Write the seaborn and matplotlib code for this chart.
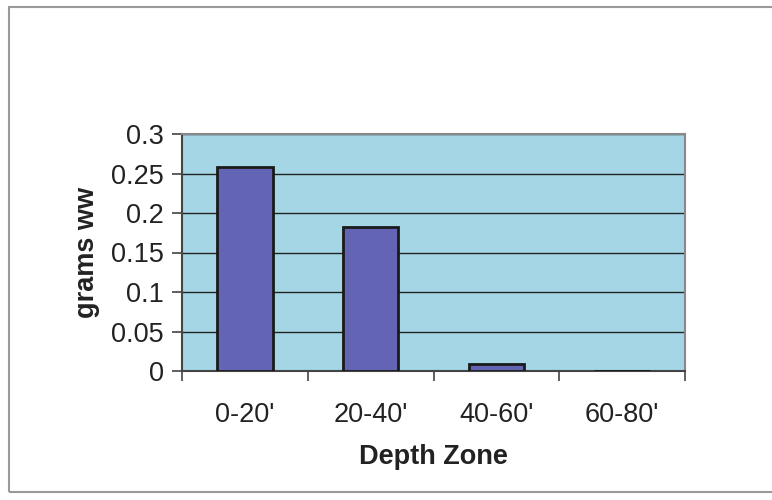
import matplotlib
matplotlib.use("Agg")
import matplotlib.pyplot as plt
import seaborn as sns
import pandas as pd
from matplotlib.patches import Rectangle

categories = ["0-20'", "20-40'", "40-60'", "60-80'"]
values = [0.258, 0.182, 0.009, 0.0]
y_ticks = [0, 0.05, 0.1, 0.15, 0.2, 0.25, 0.3]
y_tick_labels = ["0", "0.05", "0.1", "0.15", "0.2", "0.25", "0.3"]

sns.set_style("white")
plt.rcParams['font.family'] = ['Liberation Sans', 'DejaVu Sans']

df = pd.DataFrame({"zone": categories, "grams": values})

fig = plt.figure(figsize=(7.72, 5.0), dpi=100)
ax = fig.add_axes([182/772, 1-371/500, (685-182)/772, (371-134)/500])
ax.set_facecolor("#A4D6E6")

sns.barplot(data=df, x="zone", y="grams", ax=ax, color="#6464B4",
            width=0.44, edgecolor="#1a1a1a", linewidth=2, saturation=1, zorder=3)

ax.set_ylim(0, 0.3)
ax.set_xlim(-0.5, 3.5)
ax.set_yticks(y_ticks)
ax.set_yticklabels(y_tick_labels)
ax.yaxis.grid(True, color="#222222", linewidth=1)
ax.set_axisbelow(True)
for b in ax.patches:
    b.set_zorder(3)

ax.set_xticks([0, 1, 2, 3])
ax.set_xticklabels(categories)
ax.tick_params(axis="x", length=0, pad=22, labelsize=19.5, colors="#222222")
ax.set_xticks([-0.5, 0.5, 1.5, 2.5, 3.5], minor=True)
ax.tick_params(axis="x", which="minor", length=7, width=1.2, color="#444444", direction="out", bottom=True)
ax.tick_params(axis="y", length=7, width=1.2, color="#444444", direction="out", left=True,
               pad=6, labelsize=19.5, labelcolor="#222222")

for s in ["top", "right"]:
    ax.spines[s].set_color("#888888")
    ax.spines[s].set_linewidth(1.5)
for s in ["left", "bottom"]:
    ax.spines[s].set_color("#444444")
    ax.spines[s].set_linewidth(1.5)

ax.set_xlabel("Depth Zone", fontsize=19.5, fontweight="bold", color="#222222", labelpad=12)
ax.set_ylabel("grams ww", fontsize=19.5, fontweight="bold", color="#222222", labelpad=8)

fig.patches.append(Rectangle((9/772, 1-492/500), 770/772, (492-7)/500, transform=fig.transFigure,
                             fill=False, edgecolor="#999999", linewidth=1.5))

fig.savefig("out.png", dpi=100)
